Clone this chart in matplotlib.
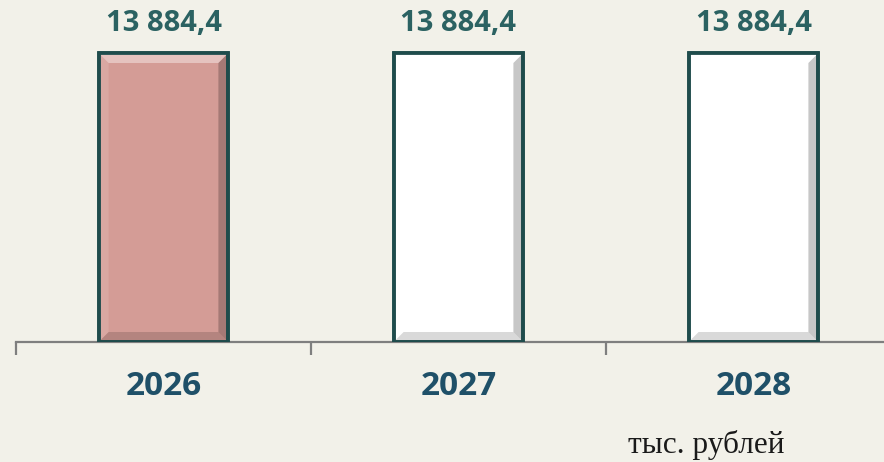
import matplotlib.pyplot as plt
from matplotlib.patches import Polygon

years = ["2026", "2027", "2028"]
values = [13884.4, 13884.4, 13884.4]
value_labels = ["13 884,4", "13 884,4", "13 884,4"]
face_colors = ["#d49c96", "#ffffff", "#ffffff"]

bg = "#f2f1e9"
fig = plt.figure(figsize=(8.84, 4.62), dpi=100, facecolor=bg)
# axes: x from 16px, one category = 295px; y bottom at 342px from top
ax = fig.add_axes([16 / 884, 120 / 462, 868 / 884, 342 / 462])
ax.set_facecolor(bg)

x = range(len(years))
bars = ax.bar(x, values, width=0.44, color=face_colors, edgecolor="#1f4c4c", linewidth=2.6, zorder=3)

ymax = 13884.4 * 342 / 289
# bevel shading on the bars (~10px wide)
bx, by = 10 / 295, 10 * ymax / 342
for b in bars:
    x0, w, h = b.get_x(), b.get_width(), b.get_height()
    x1 = x0 + w
    sides = [
        ([(x0, h), (x1, h), (x1 - bx, h - by), (x0 + bx, h - by)], "white", 0.4),
        ([(x0, 0), (x1, 0), (x1 - bx, by), (x0 + bx, by)], "black", 0.15),
        ([(x0, 0), (x0, h), (x0 + bx, h - by), (x0 + bx, by)], "white", 0.12),
        ([(x1, 0), (x1, h), (x1 - bx, h - by), (x1 - bx, by)], "black", 0.22),
    ]
    for pts, c, a in sides:
        ax.add_patch(Polygon(pts, closed=True, facecolor=c, alpha=a, edgecolor="none", zorder=4))
    ax.add_patch(plt.Rectangle((x0, 0), w, h, fill=False, edgecolor="#1f4c4c", linewidth=2.6, zorder=5))

for xi, v, lab in zip(x, values, value_labels):
    ax.annotate(lab, (xi, v), xytext=(0, 21), textcoords="offset points",
                ha="center", va="center", fontsize=21, fontweight="bold",
                family="Open Sans", color="#2b6262")

for s in ["top", "right", "left"]:
    ax.spines[s].set_visible(False)
ax.spines["bottom"].set_color("#7f7f7f")
ax.spines["bottom"].set_linewidth(1.6)
ax.set_yticks([])

ax.set_xticks([-0.5, 0.5, 1.5, 2.5])
ax.set_xticklabels([])
ax.tick_params(axis="x", which="major", length=9, width=1.6, color="#7f7f7f", direction="out")
ax.set_xticks(list(x), minor=True)
ax.set_xticklabels(years, minor=True, fontsize=24, fontweight="bold",
                   family="Open Sans", color="#1f5068")
ax.tick_params(axis="x", which="minor", length=0, pad=20)

ax.set_xlim(-0.5, -0.5 + 868 / 295)
ax.set_ylim(0, ymax)

fig.text(706 / 884, 1 - 445 / 462, "тыс. рублей", ha="center", va="center",
         fontsize=22.5, family="Liberation Serif", color="#1a1a1a")

fig.savefig("out.png", dpi=100, facecolor=bg)
